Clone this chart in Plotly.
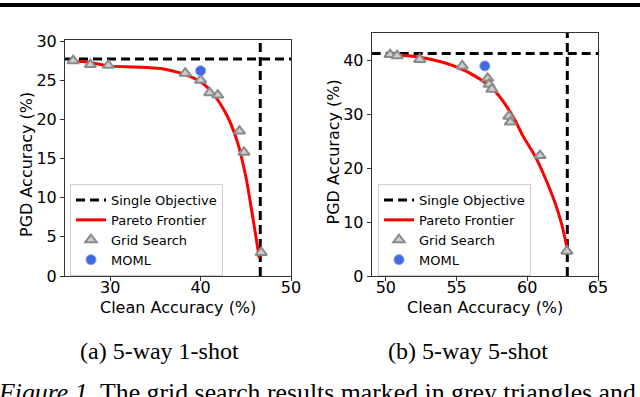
import plotly.graph_objects as go

# (a) 5-way 1-shot
grid_clean_1 = [25.9, 27.8, 29.8, 38.3, 40.0, 41.0, 41.9, 44.3, 44.8, 46.7]
grid_pgd_1 = [27.5, 27.0, 26.9, 25.9, 25.0, 23.4, 23.1, 18.5, 15.8, 3.0]
pareto_clean_1 = [25.8, 27.0, 30.0, 32.6, 35.6, 37.8, 40.0, 41.5, 43.0, 44.1, 45.0, 45.7, 46.3, 46.5]
pareto_pgd_1 = [27.3, 27.4, 26.8, 26.7, 26.5, 25.9, 24.8, 23.1, 20.3, 17.0, 12.7, 8.0, 3.7, 2.3]
moml_clean_1 = [40.0]
moml_pgd_1 = [26.2]
single_clean_1 = 46.6
single_pgd_1 = 27.7

# (b) 5-way 5-shot
grid_clean_5 = [50.3, 50.8, 52.4, 55.4, 57.2, 57.3, 57.5, 58.7, 58.8, 60.9, 62.8]
grid_pgd_5 = [41.0, 40.8, 40.1, 38.9, 36.6, 35.5, 34.6, 29.6, 28.5, 22.3, 4.6]
pareto_clean_5 = [50.2, 52.4, 54.8, 56.7, 57.8, 59.0, 59.7, 60.55, 61.26, 61.97, 62.44, 62.8]
pareto_pgd_5 = [41.0, 40.5, 38.9, 36.4, 34.0, 29.5, 25.9, 22.2, 18.2, 13.5, 9.5, 5.4]
moml_clean_5 = [57.0]
moml_pgd_5 = [38.9]
single_clean_5 = 62.83
single_pgd_5 = 41.2

xr1, yr1 = [25, 50], [0, 30.2]
xr2, yr2 = [49, 65], [0, 45]

FONT = "DejaVu Sans"
dash = "9px,5px"
W, H = 640, 397

fig = go.Figure()


def add_panel(xa, ya, leg, xr, yr, gc, gp, pc, pp, mc, mp, sc, sp):
    fig.add_trace(go.Scatter(x=xr, y=[sp, sp], mode="lines", name="Single Objective",
                             line=dict(color="black", width=3, dash=dash),
                             xaxis=xa, yaxis=ya, legend=leg, legendgroup=leg + "so"))
    fig.add_trace(go.Scatter(x=[sc, sc], y=yr, mode="lines", showlegend=False,
                             line=dict(color="black", width=3, dash=dash),
                             xaxis=xa, yaxis=ya, legend=leg, legendgroup=leg + "so"))
    fig.add_trace(go.Scatter(x=pc, y=pp, mode="lines", name="Pareto Frontier",
                             line=dict(color="red", width=3, shape="spline", smoothing=0.8),
                             xaxis=xa, yaxis=ya, legend=leg))
    fig.add_trace(go.Scatter(x=gc, y=gp, mode="markers", name="Grid Search",
                             marker=dict(symbol="triangle-up", size=10, color="#cfcfcf",
                                         line=dict(color="#8a8a8a", width=2)),
                             xaxis=xa, yaxis=ya, legend=leg))
    fig.add_trace(go.Scatter(x=mc, y=mp, mode="markers", name="MOML",
                             marker=dict(symbol="circle", size=10, color="#4169e1",
                                         line=dict(color="#7f9cf0", width=1)),
                             xaxis=xa, yaxis=ya, legend=leg))


add_panel("x", "y", "legend", xr1, yr1, grid_clean_1, grid_pgd_1, pareto_clean_1, pareto_pgd_1,
          moml_clean_1, moml_pgd_1, single_clean_1, single_pgd_1)
add_panel("x2", "y2", "legend2", xr2, yr2, grid_clean_5, grid_pgd_5, pareto_clean_5, pareto_pgd_5,
          moml_clean_5, moml_pgd_5, single_clean_5, single_pgd_5)

ax = dict(showgrid=False, zeroline=False, showline=True, mirror=True, linecolor="#333",
          linewidth=1, ticks="outside", ticklen=4, tickcolor="#333", automargin=False,
          tickfont=dict(family=FONT, size=16, color="black"))
xax = dict(ax, ticklabelstandoff=-7)

leg = dict(font=dict(family=FONT, size=13, color="black"), bgcolor="rgba(255,255,255,0.85)",
           bordercolor="#d0d0d0", borderwidth=1, xanchor="left", yanchor="top",
           tracegroupgap=0, itemwidth=30)

cap_font = dict(family="Liberation Serif", size=24, color="black")
lab_font = dict(family=FONT, size=16, color="black")


def note(text, px, py, font, **kw):
    d = dict(text=text, x=px / W, y=1 - py / H, xref="paper", yref="paper", showarrow=False,
             xanchor="center", yanchor="middle", font=font)
    d.update(kw)
    return d


fig.update_layout(
    width=W, height=H,
    margin=dict(l=0, r=0, t=0, b=0),
    paper_bgcolor="white", plot_bgcolor="white",
    xaxis=dict(xax, domain=[65 / W, 291 / W], range=xr1, tickvals=[30, 40, 50]),
    yaxis=dict(ax, domain=[1 - 276 / H, 1 - 39.5 / H], range=yr1, tickvals=[0, 5, 10, 15, 20, 25, 30]),
    xaxis2=dict(xax, domain=[371.7 / W, 598 / W], range=xr2, tickvals=[50, 55, 60, 65], anchor="y2"),
    yaxis2=dict(ax, domain=[1 - 276 / H, 1 - 33 / H], range=yr2, tickvals=[0, 10, 20, 30, 40], anchor="x2"),
    legend=dict(leg, x=70 / W, y=1 - 184 / H),
    legend2=dict(leg, x=378 / W, y=1 - 184 / H),
    shapes=[dict(type="line", xref="paper", yref="paper", x0=0, x1=1, y0=1 - 5 / H, y1=1 - 5 / H,
                 line=dict(color="black", width=4))],
    annotations=[
        note("Clean Accuracy (%)", 177.5, 307, lab_font),
        note("Clean Accuracy (%)", 484.5, 307, lab_font),
        note("PGD Accuracy (%)", 26, 165, lab_font, textangle=-90),
        note("PGD Accuracy (%)", 332.5, 152, lab_font, textangle=-90),
        note("(a) 5-way 1-shot", 159, 351, cap_font),
        note("(b) 5-way 5-shot", 468, 351, cap_font),
        note("<i>Figure 1.</i> The grid search results marked in grey triangles and", -4, 376,
             dict(family="Liberation Serif", size=25.8, color="black"), xanchor="left", yanchor="top"),
    ],
)

fig.write_html("out.html", config={"displayModeBar": False},
               post_script="document.body.style.margin='0';")
